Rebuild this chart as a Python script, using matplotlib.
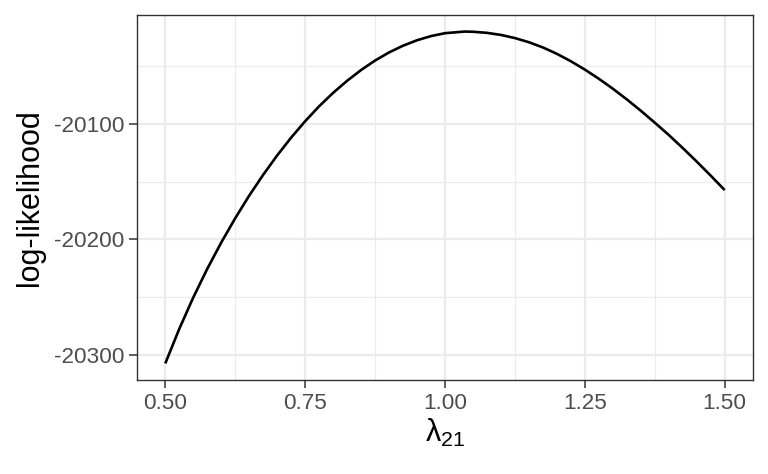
import matplotlib
matplotlib.use("Agg")
import matplotlib.pyplot as plt
from matplotlib.ticker import FixedLocator

# Data
lam = [0.500, 0.525, 0.550, 0.575, 0.600, 0.625, 0.650, 0.675, 0.700, 0.725,
       0.750, 0.775, 0.800, 0.825, 0.850, 0.875, 0.900, 0.925, 0.950, 0.975,
       1.000, 1.035, 1.050, 1.075, 1.100, 1.125, 1.150, 1.175, 1.200, 1.225,
       1.250, 1.275, 1.300, 1.325, 1.350, 1.375, 1.400, 1.425, 1.450, 1.475,
       1.500]
loglik = [-20307.0, -20277.2, -20250.1, -20225.4, -20202.7, -20181.7, -20162.2,
          -20144.2, -20127.5, -20112.1, -20098.0, -20085.1, -20073.5, -20063.1,
          -20053.8, -20045.6, -20038.6, -20032.8, -20028.1, -20024.5, -20022.0,
          -20020.6, -20020.75, -20021.7, -20023.5, -20026.2, -20029.8, -20034.3,
          -20039.8, -20046.2, -20053.4, -20061.3, -20069.9, -20079.1, -20088.9,
          -20099.2, -20109.8, -20121.1, -20132.8, -20144.9, -20157.4]
x_major = [0.50, 0.75, 1.00, 1.25, 1.50]
x_minor = [0.625, 0.875, 1.125, 1.375]
y_major = [-20300, -20200, -20100]
y_minor = [-20250, -20150, -20050]
x_ticklabels = ["0.50", "0.75", "1.00", "1.25", "1.50"]
y_ticklabels = ["-20300", "-20200", "-20100"]

plt.rcParams['font.family'] = ['Liberation Sans', 'DejaVu Sans']
plt.rcParams['mathtext.fontset'] = 'custom'
plt.rcParams['mathtext.rm'] = 'Liberation Sans'
plt.rcParams['mathtext.it'] = 'Liberation Sans'

fig = plt.figure(figsize=(7.68, 4.74), dpi=100)
ax = fig.add_axes([0.1788, 0.1983, 0.980 - 0.1788, 0.9684 - 0.1983])

ax.plot(lam, loglik, color='black', lw=1.9, solid_capstyle='butt',
        solid_joinstyle='round', zorder=3)

xr = max(lam) - min(lam)
yr = max(loglik) - min(loglik)
ax.set_xlim(min(lam) - 0.05 * xr, max(lam) + 0.05 * xr)
ax.set_ylim(min(loglik) - 0.05 * yr, max(loglik) + 0.05 * yr)

ax.xaxis.set_major_locator(FixedLocator(x_major))
ax.xaxis.set_minor_locator(FixedLocator(x_minor))
ax.yaxis.set_major_locator(FixedLocator(y_major))
ax.yaxis.set_minor_locator(FixedLocator(y_minor))
ax.set_xticklabels(x_ticklabels)
ax.set_yticklabels(y_ticklabels)

ax.grid(which='major', color='#EBEBEB', lw=1.6, zorder=0)
ax.grid(which='minor', color='#EBEBEB', lw=0.85, zorder=0)
ax.set_axisbelow(True)

ax.tick_params(which='major', length=5.5, width=1.1, color='#333333',
               labelsize=16.2, labelcolor='#4D4D4D', pad=4)
ax.tick_params(which='minor', length=0)

for s in ax.spines.values():
    s.set_color('#333333')
    s.set_linewidth(1.0)

ax.set_xlabel(r'$\mathregular{λ_{21}}$', fontsize=22, color='black', labelpad=2)
ax.set_ylabel('log-likelihood', fontsize=22, color='black', labelpad=6)

fig.savefig('out.png', dpi=100)
